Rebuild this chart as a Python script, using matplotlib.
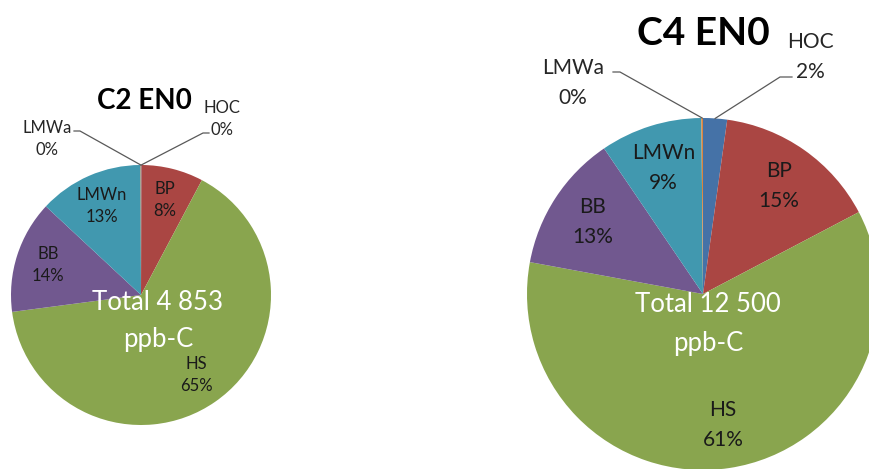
import matplotlib
matplotlib.use("Agg")
import matplotlib.pyplot as plt
import numpy as np

# Carbon fractions (percent of total organic carbon) for two samples
categories = ["HOC", "BP", "HS", "BB", "LMWn", "LMWa"]
c2_values = [0.05, 7.7, 65.1, 14.0, 13.0, 0.05]
c4_values = [2.2, 15.1, 60.6, 12.6, 9.35, 0.15]
c2_title = "C2 EN0"
c4_title = "C4 EN0"
c2_total = ["Total 4 853", "ppb-C"]
c4_total = ["Total 12 500", "ppb-C"]

colors = ["#4572A7", "#AA4643", "#89A54E", "#71588F", "#4198AF", "#DB843D"]

W, H = 870, 469
plt.rcParams["font.family"] = ["Lato", "DejaVu Sans"]

fig = plt.figure(figsize=(W / 100, H / 100), dpi=100)
ax = fig.add_axes([0, 0, 1, 1])


def Y(py):
    return H - py


def draw_pie(values, cx, cy, r, title, title_xy, title_size, total, total_xy,
             total_size, total_lh, label_size, inner_lh, outside):
    wedges, _ = ax.pie(values, colors=colors, startangle=90, counterclock=False,
                       center=(cx, Y(cy)), radius=r, frame=True,
                       wedgeprops=dict(linewidth=0))
    for name, v, w in zip(categories, values, wedges):
        mid = np.deg2rad((w.theta1 + w.theta2) / 2)
        pct = f"{round(v)}%"
        if name in outside:
            (tx, ty), (hx0, hx1, hy) = outside[name]
            ex = cx + r * np.cos(mid)
            ey = Y(cy) + r * np.sin(mid)
            ax.plot([ex, hx0, hx1], [ey, Y(hy), Y(hy)], color="#595959", lw=0.9)
            ax.text(tx, Y(ty), name, ha="center", va="center",
                    fontsize=label_size, color="#262626")
            ax.text(tx, Y(ty + inner_lh), pct, ha="center", va="center",
                    fontsize=label_size, color="#262626")
        else:
            d = 0.75 * r
            lx = cx + d * np.cos(mid)
            ly = Y(cy) + d * np.sin(mid)
            ax.text(lx, ly + inner_lh / 2, name, ha="center", va="center",
                    fontsize=label_size, color="#1a1a1a")
            ax.text(lx, ly - inner_lh / 2, pct, ha="center", va="center",
                    fontsize=label_size, color="#1a1a1a")
    ax.text(title_xy[0], Y(title_xy[1]), title, ha="center", va="center",
            fontsize=title_size, fontweight="bold", color="black")
    for i, line in enumerate(total):
        ax.text(total_xy[0], Y(total_xy[1] + i * total_lh), line, ha="center",
                va="center", fontsize=total_size, color="white")


draw_pie(c2_values, 141, 295, 130, c2_title, (144, 101), 20,
         c2_total, (158, 302), 18.5, 38, 12, 22,
         {"HOC": ((222, 108), (203, 209, 133)),
          "LMWa": ((47, 128), (80, 74, 131))})

draw_pie(c4_values, 703, 294, 176, c4_title, (703, 33), 28,
         c4_total, (708, 305), 18.5, 38, 15, 30,
         {"HOC": ((810, 42), (780, 792, 77)),
          "LMWa": ((573, 68), (620, 613, 72))})

ax.set_xlim(0, W)
ax.set_ylim(0, H)
ax.set_aspect("equal")
ax.axis("off")

fig.savefig("out.png", dpi=100, facecolor="white")
